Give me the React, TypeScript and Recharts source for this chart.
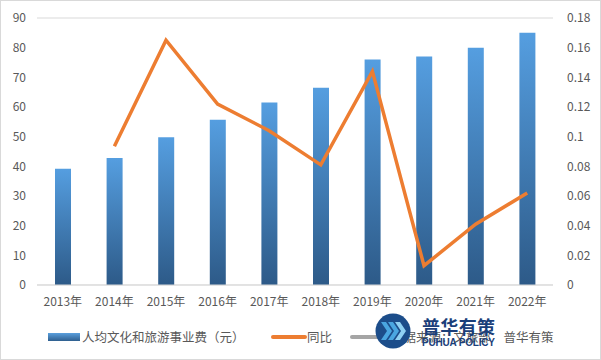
import React from "react";
import {
  ComposedChart,
  Bar,
  Line,
  XAxis,
  YAxis,
  CartesianGrid,
} from "recharts";

const YEARS = ["2013年", "2014年", "2015年", "2016年", "2017年", "2018年", "2019年", "2020年", "2021年", "2022年"];
const SPENDING = [39.2, 42.8, 49.8, 55.7, 61.5, 66.5, 76.0, 77.0, 80.0, 85.0];
const GROWTH = [null, 0.0935, 0.165, 0.122, 0.104, 0.081, 0.144, 0.013, 0.041, 0.062];
const LEFT_TICKS = [0, 10, 20, 30, 40, 50, 60, 70, 80, 90];
const RIGHT_TICKS = [0, 0.02, 0.04, 0.06, 0.08, 0.1, 0.12, 0.14, 0.16, 0.18];
const SERIES_NAMES = ["人均文化和旅游事业费（元）", "同比", "数据来源：文旅部　普华有策"];

const FONT = '"Noto Sans CJK SC", "Noto Sans", sans-serif';
const TEXT = "#595959";
const GRID = "#d9d9d9";
const ORANGE = "#ed7d31";
const GRAY = "#a5a5a5";

const data = YEARS.map((year, i) => ({
  year,
  spending: SPENDING[i],
  growth: GROWTH[i],
}));

// watermark badge sitting over the legend, as in the source image
function Logo() {
  const cx = 393;
  const cy = 331;
  return (
    <svg
      width={601}
      height={360}
      style={{ position: "absolute", left: 0, top: 0, pointerEvents: "none" }}
    >
      <circle cx={cx} cy={cy} r={17.5} fill="#1c4d8a" />
      {[0, 1, 2].map((k) => {
        const x = cx - 12 + k * 7;
        return (
          <polygon
            key={k}
            points={`${x},${cy - 9} ${x + 5},${cy - 9} ${x + 11},${cy} ${x + 5},${cy + 9} ${x},${cy + 9} ${x + 6},${cy}`}
            fill={k === 2 ? "#8fd0f2" : "#4aa6e0"}
          />
        );
      })}
      <text
        x={422}
        y={334}
        fontFamily={FONT}
        fontWeight={700}
        fontSize={18}
        fill="#1b3f7a"
        textLength={73}
      >
        普华有策
      </text>
      <text
        x={422}
        y={346}
        fontFamily='"Liberation Sans", Arial, sans-serif'
        fontWeight={700}
        fontSize={10}
        fill="#1b3f7a"
        textLength={73}
      >
        PUHUA POLICY
      </text>
    </svg>
  );
}

function LegendRow() {
  const label: React.CSSProperties = {
    position: "absolute",
    top: 328,
    fontFamily: FONT,
    fontSize: 12.5,
    color: TEXT,
    whiteSpace: "pre",
    lineHeight: "18px",
  };
  return (
    <>
      <div
        style={{
          position: "absolute",
          left: 48,
          top: 333,
          width: 32,
          height: 8,
          background: "linear-gradient(#5a9fdd, #2f5f8f)",
        }}
      />
      <div style={{ ...label, left: 82 }}>{SERIES_NAMES[0]}</div>
      <div
        style={{
          position: "absolute",
          left: 271,
          top: 335,
          width: 36,
          height: 4,
          borderRadius: 2,
          background: ORANGE,
        }}
      />
      <div style={{ ...label, left: 307 }}>{SERIES_NAMES[1]}</div>
      <div
        style={{
          position: "absolute",
          left: 350,
          top: 335,
          width: 36,
          height: 4,
          borderRadius: 2,
          background: GRAY,
        }}
      />
      <div style={{ ...label, left: 391 }}>{SERIES_NAMES[2]}</div>
    </>
  );
}

export default function App() {
  return (
    <div
      style={{
        position: "absolute",
        left: 0,
        top: 0,
        width: 601,
        height: 360,
        background: "#fff",
      }}
    >
      <ComposedChart
        width={601}
        height={360}
        data={data}
        margin={{ top: 18, right: 0, left: 0, bottom: 45 }}
      >
        <defs>
          <linearGradient id="barFill" x1="0" y1="0" x2="0" y2="1">
            <stop offset="0%" stopColor="#559ee0" />
            <stop offset="100%" stopColor="#2d5a88" />
          </linearGradient>
        </defs>
        <CartesianGrid vertical={false} stroke={GRID} />
        <XAxis
          dataKey="year"
          height={30}
          tickLine={false}
          tickMargin={6}
          axisLine={{ stroke: GRID }}
          tick={{ fill: TEXT, fontSize: 12, fontFamily: FONT }}
          interval={0}
        />
        <YAxis
          yAxisId="left"
          width={37}
          domain={[0, 90]}
          ticks={LEFT_TICKS}
          axisLine={false}
          tickLine={false}
          tickSize={6}
          tickMargin={5}
          tick={{ fill: TEXT, fontSize: 12, fontFamily: FONT }}
        />
        <YAxis
          yAxisId="right"
          orientation="right"
          width={48}
          domain={[0, 0.18]}
          ticks={RIGHT_TICKS}
          axisLine={false}
          tickLine={false}
          tickSize={6}
          tickMargin={8}
          tick={{ fill: TEXT, fontSize: 12, fontFamily: FONT, textAnchor: "start" }}
        />
        <Bar
          yAxisId="left"
          dataKey="spending"
          name={SERIES_NAMES[0]}
          barSize={16}
          fill="url(#barFill)"
          isAnimationActive={false}
        />
        <Line
          yAxisId="right"
          dataKey="growth"
          name={SERIES_NAMES[1]}
          type="linear"
          stroke={ORANGE}
          strokeWidth={3.5}
          dot={false}
          activeDot={false}
          isAnimationActive={false}
        />
      </ComposedChart>
      <LegendRow />
      <Logo />
      <div
        style={{
          position: "absolute",
          left: 0,
          top: 0,
          width: 601,
          height: 360,
          boxSizing: "border-box",
          border: `1px solid ${GRID}`,
          pointerEvents: "none",
        }}
      />
    </div>
  );
}
